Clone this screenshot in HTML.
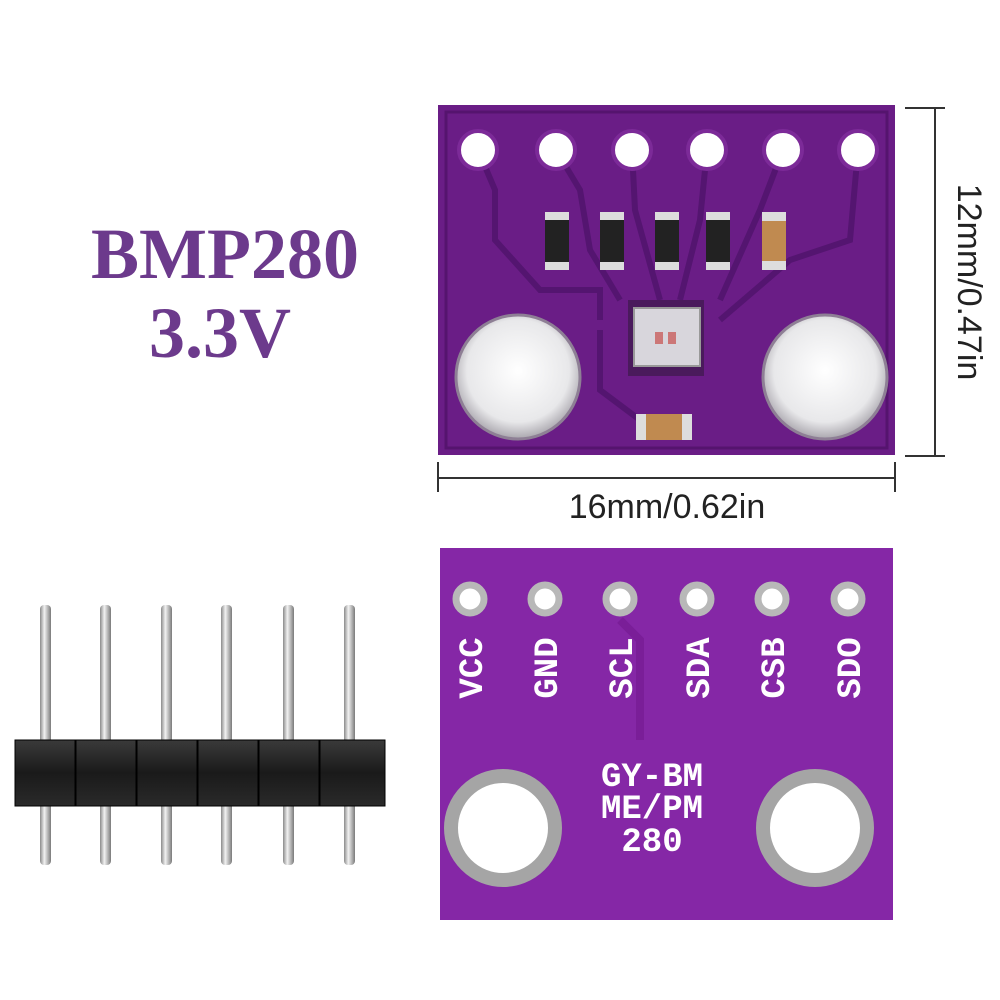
<!DOCTYPE html>
<html><head><meta charset="utf-8"><style>
html,body{margin:0;padding:0;background:#fff;width:1000px;height:1000px;overflow:hidden}
</style></head><body>
<svg width="1000" height="1000" viewBox="0 0 1000 1000" xmlns="http://www.w3.org/2000/svg">
<defs>
<radialGradient id="sil" cx="50%" cy="45%" r="55%"><stop offset="0" stop-color="#ffffff"/><stop offset="0.75" stop-color="#e8e8ea"/><stop offset="1" stop-color="#a9a6ad"/></radialGradient>
<linearGradient id="pin" x1="0" x2="1"><stop offset="0" stop-color="#8a8a8a"/><stop offset="0.4" stop-color="#f2f2f2"/><stop offset="1" stop-color="#7a7a7a"/></linearGradient>
<linearGradient id="blk" x1="0" x2="0" y1="0" y2="1"><stop offset="0" stop-color="#3a3a3a"/><stop offset="0.5" stop-color="#1a1a1a"/><stop offset="1" stop-color="#2a2a2a"/></linearGradient>
</defs>
<!-- title -->
<text x="225" y="278" text-anchor="middle" font-family="Liberation Serif, serif" font-weight="bold" font-size="72" fill="#6c3a8c">BMP280</text>
<text x="220" y="357" text-anchor="middle" font-family="Liberation Serif, serif" font-weight="bold" font-size="72" fill="#6c3a8c">3.3V</text>

<!-- top board -->
<rect x="438" y="105" width="457" height="350" fill="#6a1d86"/>
<rect x="446" y="112" width="441" height="336" fill="none" stroke="#55146e" stroke-width="3"/>
<g fill="none" stroke="#541570" stroke-width="6">
<path d="M478 150 L495 190 L495 240 L540 290 L600 290 L600 320"/>
<path d="M556 150 L580 190 L590 250 L620 300"/>
<path d="M632 150 L635 210 L660 300"/>
<path d="M707 150 L700 220 L680 300"/>
<path d="M783 150 L760 210 L720 300"/>
<path d="M858 150 L850 240 L790 260 L720 320"/>
<path d="M600 330 L600 390 L640 420 L690 420"/>
</g>
<g fill="#fff" stroke="#7c2a98" stroke-width="4">
<circle cx="478" cy="150" r="19"/><circle cx="556" cy="150" r="19"/><circle cx="632" cy="150" r="19"/>
<circle cx="707" cy="150" r="19"/><circle cx="783" cy="150" r="19"/><circle cx="858" cy="150" r="19"/>
</g>
<circle cx="518" cy="377" r="62" fill="url(#sil)" stroke="#8e7f95" stroke-width="3"/>
<circle cx="825" cy="377" r="62" fill="url(#sil)" stroke="#8e7f95" stroke-width="3"/>
<g>
<rect x="545" y="212" width="24" height="58" fill="#222"/><rect x="545" y="212" width="24" height="8" fill="#ddd"/><rect x="545" y="262" width="24" height="8" fill="#ddd"/>
<rect x="600" y="212" width="24" height="58" fill="#222"/><rect x="600" y="212" width="24" height="8" fill="#ddd"/><rect x="600" y="262" width="24" height="8" fill="#ddd"/>
<rect x="655" y="212" width="24" height="58" fill="#222"/><rect x="655" y="212" width="24" height="8" fill="#ddd"/><rect x="655" y="262" width="24" height="8" fill="#ddd"/>
<rect x="706" y="212" width="24" height="58" fill="#222"/><rect x="706" y="212" width="24" height="8" fill="#ddd"/><rect x="706" y="262" width="24" height="8" fill="#ddd"/>
<rect x="762" y="212" width="24" height="58" fill="#c08a50"/><rect x="762" y="212" width="24" height="9" fill="#ddd"/><rect x="762" y="261" width="24" height="9" fill="#ddd"/>
<rect x="628" y="300" width="76" height="76" fill="#4a1a5c"/>
<rect x="634" y="308" width="66" height="58" fill="#d8d6dc" stroke="#999" stroke-width="2"/>
<rect x="655" y="332" width="8" height="12" fill="#c77"/><rect x="668" y="332" width="8" height="12" fill="#c77"/>
<rect x="636" y="414" width="56" height="26" fill="#c08a50"/><rect x="636" y="414" width="10" height="26" fill="#ddd"/><rect x="682" y="414" width="10" height="26" fill="#ddd"/>
</g>

<!-- dimension lines -->
<g stroke="#333" stroke-width="2">
<line x1="935" y1="108" x2="935" y2="456"/><line x1="905" y1="108" x2="945" y2="108"/><line x1="905" y1="456" x2="945" y2="456"/>
<line x1="438" y1="478" x2="895" y2="478"/><line x1="438" y1="462" x2="438" y2="492"/><line x1="895" y1="462" x2="895" y2="492"/>
</g>
<text x="667" y="518" text-anchor="middle" font-family="Liberation Sans, sans-serif" font-size="34" fill="#222">16mm/0.62in</text>
<text transform="translate(958,282) rotate(90)" text-anchor="middle" font-family="Liberation Sans, sans-serif" font-size="34" fill="#222">12mm/0.47in</text>

<!-- bottom board -->
<rect x="440" y="548" width="453" height="372" fill="#8527a6"/>
<g fill="#fff" stroke="#b8b8b8" stroke-width="7">
<circle cx="470" cy="599" r="14"/><circle cx="545" cy="599" r="14"/><circle cx="620" cy="599" r="14"/>
<circle cx="697" cy="599" r="14"/><circle cx="772" cy="599" r="14"/><circle cx="848" cy="599" r="14"/>
</g>
<path d="M620 620 L640 640 L640 740" stroke="#7a1e98" stroke-width="8" fill="none"/>
<g font-family="Liberation Mono, monospace" font-weight="bold" font-size="34" fill="#fff" text-anchor="middle">
<text transform="translate(482,668) rotate(-90)">VCC</text>
<text transform="translate(557,668) rotate(-90)">GND</text>
<text transform="translate(632,668) rotate(-90)">SCL</text>
<text transform="translate(709,668) rotate(-90)">SDA</text>
<text transform="translate(784,668) rotate(-90)">CSB</text>
<text transform="translate(860,668) rotate(-90)">SDO</text>
<text x="652" y="786" font-size="34">GY-BM</text>
<text x="652" y="818" font-size="34">ME/PM</text>
<text x="652" y="851" font-size="34">280</text>
</g>
<circle cx="503" cy="828" r="52" fill="#fff" stroke="#a5a5a5" stroke-width="14"/>
<circle cx="815" cy="828" r="52" fill="#fff" stroke="#a5a5a5" stroke-width="14"/>

<!-- header pins -->
<g>
<rect x="40" y="605" width="11" height="260" rx="4" fill="url(#pin)"/>
<rect x="100" y="605" width="11" height="260" rx="4" fill="url(#pin)"/>
<rect x="161" y="605" width="11" height="260" rx="4" fill="url(#pin)"/>
<rect x="221" y="605" width="11" height="260" rx="4" fill="url(#pin)"/>
<rect x="283" y="605" width="11" height="260" rx="4" fill="url(#pin)"/>
<rect x="344" y="605" width="11" height="260" rx="4" fill="url(#pin)"/>
<rect x="15" y="740" width="60" height="66" fill="url(#blk)" stroke="#000"/>
<rect x="76" y="740" width="60" height="66" fill="url(#blk)" stroke="#000"/>
<rect x="137" y="740" width="60" height="66" fill="url(#blk)" stroke="#000"/>
<rect x="198" y="740" width="60" height="66" fill="url(#blk)" stroke="#000"/>
<rect x="259" y="740" width="60" height="66" fill="url(#blk)" stroke="#000"/>
<rect x="320" y="740" width="65" height="66" fill="url(#blk)" stroke="#000"/>
</g>
</svg>
</body></html>
